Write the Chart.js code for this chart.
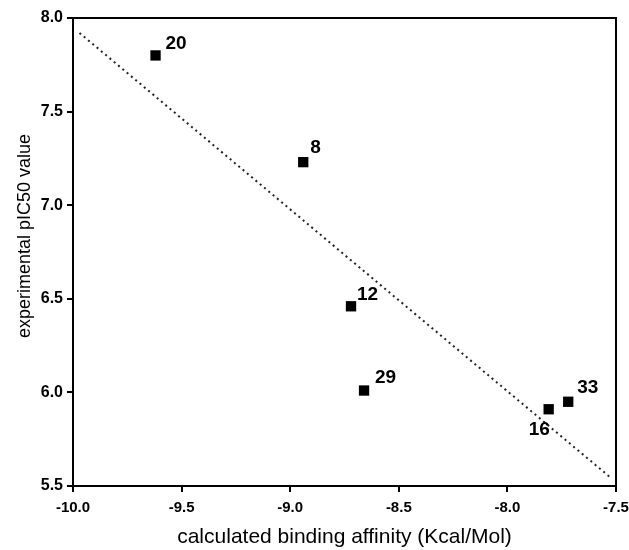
<!DOCTYPE html>
<html>
<head>
<meta charset="utf-8">
<script src="https://cdn.jsdelivr.net/npm/chart.js@4/dist/chart.umd.min.js"></script>
<style>
  html, body { margin: 0; padding: 0; background: #fff; }
  #wrap { width: 629px; height: 550px; }
</style>
</head>
<body>
<div id="wrap"><canvas id="c" width="629" height="550"></canvas></div>
<script>
// ---- data ----
const compounds = ["20", "8", "12", "29", "16", "33"];
const bindingAffinity = [-9.62, -8.94, -8.72, -8.66, -7.81, -7.72];
const pIC50 = [7.80, 7.23, 6.46, 6.01, 5.91, 5.95];
const fitX = [-9.97, -7.52];
const fitY = [7.92, 5.54];
const xTicks = [-10.0, -9.5, -9.0, -8.5, -8.0, -7.5];
const yTicks = [5.5, 6.0, 6.5, 7.0, 7.5, 8.0];
const xTitle = "calculated binding affinity (Kcal/Mol)";
const yTitle = "experimental pIC50 value";

const FONT = '"Liberation Sans", Arial, sans-serif';

// label offsets (pixels) relative to marker centre
const labelOffsets = {
  "20": [10, -12], "8": [7, -14], "12": [6, -12],
  "29": [11, -13], "16": [-20, 21], "33": [9, -14]
};

const overlay = {
  id: 'overlay',
  afterDatasetsDraw(chart) {
    const ctx = chart.ctx;
    const a = chart.chartArea;
    const xs = chart.scales.x, ys = chart.scales.y;
    ctx.save();
    // frame (top & right)
    ctx.strokeStyle = '#000';
    ctx.lineWidth = 2;
    ctx.beginPath();
    ctx.moveTo(a.left, a.top);
    ctx.lineTo(a.right, a.top);
    ctx.lineTo(a.right, a.bottom);
    ctx.stroke();
    // point labels
    ctx.fillStyle = '#000';
    ctx.font = 'bold 19px ' + FONT;
    ctx.textAlign = 'left';
    ctx.textBaseline = 'middle';
    compounds.forEach((name, i) => {
      const px = xs.getPixelForValue(bindingAffinity[i]);
      const py = ys.getPixelForValue(pIC50[i]);
      const o = labelOffsets[name] || [8, -12];
      ctx.fillText(name, px + o[0], py + o[1]);
    });
    // y title
    ctx.font = '18px ' + FONT;
    ctx.textAlign = 'center';
    ctx.translate(25, a.top + 218);
    ctx.rotate(-Math.PI / 2);
    ctx.fillText(yTitle, 0, 0);
    ctx.restore();
  }
};

new Chart(document.getElementById('c'), {
  type: 'scatter',
  data: {
    datasets: [
      {
        label: 'compounds',
        data: bindingAffinity.map((x, i) => ({ x: x, y: pIC50[i] })),
        pointStyle: 'rect',
        pointRadius: 7.3,
        pointHoverRadius: 7.3,
        pointBorderWidth: 0,
        backgroundColor: '#000',
        borderColor: '#000',
        showLine: false,
        order: 1
      },
      {
        label: 'fit',
        type: 'line',
        data: fitX.map((x, i) => ({ x: x, y: fitY[i] })),
        borderColor: '#222',
        borderWidth: 2,
        borderDash: [2, 3.6],
        pointRadius: 0,
        fill: false,
        order: 2
      }
    ]
  },
  options: {
    responsive: false,
    animation: false,
    devicePixelRatio: 1,
    layout: { padding: { top: 18, right: 13, left: 0, bottom: 0 } },
    plugins: { legend: { display: false }, tooltip: { enabled: false } },
    scales: {
      x: {
        type: 'linear',
        min: -10, max: -7.5,
        afterBuildTicks: s => { s.ticks = xTicks.map(v => ({ value: v })); },
        afterFit: s => { s.height = 64; s.paddingLeft = 0; s.paddingRight = 0; },
        ticks: {
          color: '#000',
          padding: 7,
          font: { family: FONT, size: 15, weight: 'bold' },
          callback: v => Number(v).toFixed(1),
          maxRotation: 0,
          autoSkip: false
        },
        grid: { display: true, drawOnChartArea: false, drawTicks: true, tickLength: 6, color: '#000', lineWidth: 2 },
        border: { display: true, color: '#000', width: 2 },
        title: {
          display: true,
          text: xTitle,
          color: '#000',
          font: { family: FONT, size: 21, weight: 'normal', lineHeight: 1 },
          padding: { top: 0, bottom: 2 }
        }
      },
      y: {
        type: 'linear',
        min: 5.5, max: 8,
        afterBuildTicks: s => { s.ticks = yTicks.map(v => ({ value: v })); },
        afterFit: s => { s.width = 73; s.paddingTop = 0; s.paddingBottom = 0; },
        ticks: {
          color: '#000',
          padding: 4,
          font: { family: FONT, size: 16, weight: 'bold' },
          callback: v => Number(v).toFixed(1),
          autoSkip: false
        },
        grid: { display: true, drawOnChartArea: false, drawTicks: true, tickLength: 6, color: '#000', lineWidth: 2 },
        border: { display: true, color: '#000', width: 2 },
        title: { display: false }
      }
    }
  },
  plugins: [overlay]
});
</script>
</body>
</html>
